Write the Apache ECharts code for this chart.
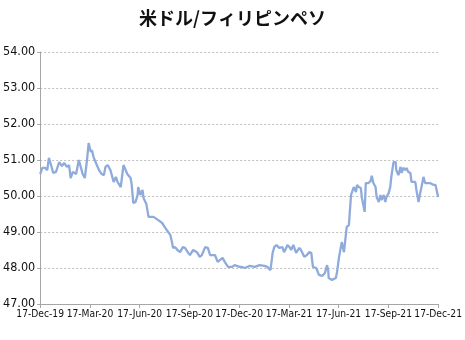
<!DOCTYPE html>
<html><head><meta charset="utf-8">
<script src="https://cdn.jsdelivr.net/npm/echarts@6/dist/echarts.min.js"></script>
<style>html,body{margin:0;padding:0;background:#fff}#c{width:465px;height:340px}</style>
</head><body><div id="c"></div>
<script>
const titleText = '米ドル/フィリピンペソ';
const tickLabels = ['17-Dec-19','17-Mar-20','17-Jun-20','17-Sep-20','17-Dec-20','17-Mar-21','17-Jun-21','17-Sep-21','17-Dec-21'];
const totalDays = 731; // 17-Dec-19 .. 17-Dec-21
const dayOffsets = [0,4,9,13,16,20,24,29,35,40,44,49,53,56,60,66,71,75,78,82,86,89,93,95,98,104,108,113,117,120,124,129,135,139,142,148,153,157,160,166,168,171,175,179,180,184,188,190,195,199,202,208,211,217,224,230,235,239,242,244,248,252,257,262,266,272,275,281,288,293,297,303,308,312,315,321,326,330,335,339,345,352,357,366,370,376,385,394,403,412,417,423,425,427,430,434,439,445,448,452,454,458,461,465,470,476,479,485,490,494,498,499,501,507,512,518,523,527,529,530,536,543,545,549,552,554,558,561,563,567,571,572,576,580,582,585,589,591,594,596,598,603,607,609,612,616,618,622,625,627,631,634,636,640,643,645,649,653,654,658,662,664,667,671,673,676,680,682,685,689,691,695,698,700,704,707,709,716,722,726,727,731];
const rates = [50.61,50.78,50.78,50.72,51.06,50.86,50.64,50.67,50.94,50.83,50.92,50.81,50.86,50.50,50.67,50.61,51.00,50.78,50.61,50.50,51.00,51.47,51.22,51.28,51.08,50.86,50.72,50.61,50.58,50.81,50.86,50.72,50.39,50.53,50.39,50.25,50.86,50.72,50.61,50.50,50.33,49.81,49.83,50.03,50.25,50.03,50.17,49.94,49.78,49.42,49.47,49.42,49.47,49.33,49.25,49.11,49.00,48.92,48.72,48.56,48.58,48.50,48.44,48.58,48.56,48.42,48.36,48.50,48.44,48.31,48.36,48.58,48.56,48.36,48.31,48.36,48.17,48.22,48.28,48.17,48.03,48.03,48.08,48.03,48.03,48.00,48.06,48.03,48.08,48.06,48.03,47.94,47.89,48.42,48.58,48.64,48.56,48.58,48.44,48.56,48.64,48.58,48.50,48.64,48.42,48.56,48.50,48.31,48.36,48.44,48.42,48.28,48.03,48.00,47.81,47.78,47.86,48.08,47.94,47.72,47.67,47.72,47.86,48.31,48.56,48.72,48.44,48.86,49.14,49.19,50.03,50.08,50.25,50.11,50.31,50.25,50.22,49.94,49.89,49.56,50.36,50.36,50.42,50.56,50.36,50.25,49.97,49.83,50.03,49.89,50.03,49.83,49.97,50.08,50.25,50.53,50.94,50.94,50.72,50.58,50.81,50.64,50.78,50.72,50.78,50.67,50.64,50.39,50.36,50.39,50.17,49.83,50.08,50.22,50.53,50.36,50.36,50.36,50.31,50.31,50.36,49.97];
const yMin = 47, yMax = 54, yStep = 1;

const step = totalDays / (tickLabels.length - 1);
const labelFont = "'DejaVu Sans',sans-serif";
const chart = echarts.init(document.getElementById('c'), null, {renderer: 'canvas'});
chart.setOption({
  animation: false,
  backgroundColor: '#ffffff',
  title: {
    text: titleText, left: 'center', top: 4,
    textStyle: {fontSize: 18, fontWeight: 'bold', color: '#111', fontFamily: "'Noto Sans CJK JP',sans-serif"}
  },
  grid: {left: 39, right: 25, top: 52, bottom: 36, containLabel: false},
  xAxis: {
    type: 'value', min: 0, max: totalDays, interval: step,
    axisLine: {show: true, lineStyle: {color: '#a6a6a6', width: 1}},
    axisTick: {show: true, length: 4, lineStyle: {color: '#a6a6a6'}},
    splitLine: {show: false},
    axisLabel: {
      color: '#111', fontSize: 10.2, fontWeight: 'normal condensed', fontFamily: labelFont, margin: 5,
      showMinLabel: true, showMaxLabel: true, hideOverlap: false,
      formatter: (v) => tickLabels[Math.round(v / step)] || ''
    }
  },
  yAxis: {
    type: 'value', min: yMin, max: yMax, interval: yStep,
    axisLine: {show: true, lineStyle: {color: '#a6a6a6', width: 1}},
    axisTick: {show: true, length: 3, lineStyle: {color: '#a6a6a6'}},
    splitLine: {show: true, lineStyle: {color: '#c0c0c0', type: [2, 2], width: 1}},
    axisLabel: {color: '#111', fontSize: 12.5, fontWeight: 'normal condensed', fontFamily: labelFont, margin: 5, formatter: (v) => v.toFixed(2)}
  },
  series: [{
    type: 'line', showSymbol: false, smooth: false,
    data: dayOffsets.map((d, i) => [d, rates[i]]),
    lineStyle: {color: '#8fabdc', width: 2.3},
    itemStyle: {color: '#8fabdc'}
  }]
});
</script></body></html>
